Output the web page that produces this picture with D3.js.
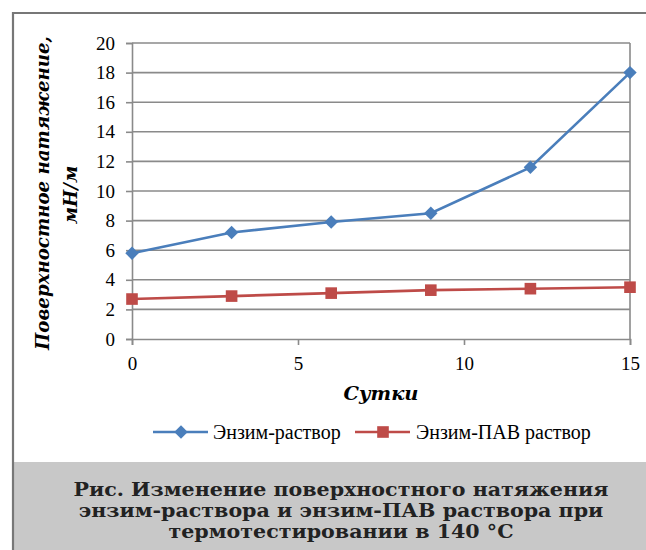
<!DOCTYPE html>
<html><head><meta charset="utf-8">
<script src="https://cdn.jsdelivr.net/npm/d3@7"></script>
<style>body{margin:0;background:#fff}svg{display:block}</style>
</head><body>
<script>
const days = [0, 3, 6, 9, 12, 15];
const enzymeSolution = [5.8, 7.2, 7.9, 8.5, 11.6, 18.0];
const enzymeSurfactant = [2.7, 2.9, 3.1, 3.3, 3.4, 3.5];
const seriesNames = ["Энзим-раствор", "Энзим-ПАВ раствор"];
const yTicks = [0, 2, 4, 6, 8, 10, 12, 14, 16, 18, 20];
const xTicks = [0, 5, 10, 15];
const yTitle = ["Поверхностное натяжение,", "мН/м"];
const xTitle = "Сутки";
const caption = ["Рис. Изменение поверхностного натяжения", "энзим-раствора и энзим-ПАВ раствора при", "термотестировании в 140 °C"];

const W = 646, H = 550;
const svg = d3.select("body").append("svg").attr("width", W).attr("height", H);
const serif = "'Liberation Serif', 'Times New Roman', serif";
const wide = "'DejaVu Serif', serif";

function fitWidth(sel, target, maxSize) {
  const fs = parseFloat(sel.attr("font-size"));
  const w = sel.node().getComputedTextLength();
  sel.attr("font-size", Math.min(maxSize, fs * target / w).toFixed(2));
}

// outer frame
svg.append("rect").attr("x", 13).attr("y", 462).attr("width", W - 13).attr("height", H - 462).attr("fill", "#c8c8c8");
svg.append("path").attr("d", `M13,${H} V13 H${W}`).attr("fill", "none").attr("stroke", "#777").attr("stroke-width", 2.2);

const x = d3.scaleLinear().domain([0, 15]).range([132, 630]);
const y = d3.scaleLinear().domain([0, 20]).range([339, 43]);
const grid = "#8a8a8a";

svg.append("g").selectAll("line").data(yTicks.slice(1)).join("line")
  .attr("x1", x(0)).attr("x2", x(15)).attr("y1", d => y(d)).attr("y2", d => y(d))
  .attr("stroke", grid).attr("stroke-width", 1.6);
svg.append("line").attr("x1", x(15)).attr("x2", x(15)).attr("y1", y(20)).attr("y2", y(0))
  .attr("stroke", grid).attr("stroke-width", 1.6);

const yAxis = svg.append("g").attr("transform", `translate(${x(0)},0)`)
  .call(d3.axisLeft(y).tickValues(yTicks).tickSize(6).tickPadding(11).tickFormat(d3.format("d")));
const xAxis = svg.append("g").attr("transform", `translate(0,${y(0)})`)
  .call(d3.axisBottom(x).tickValues(xTicks).tickSize(6).tickPadding(12).tickFormat(d3.format("d")));
[yAxis, xAxis].forEach(a => {
  a.select(".domain").attr("stroke", grid).attr("stroke-width", 1.6);
  a.selectAll(".tick line").attr("stroke", grid).attr("stroke-width", 1.6);
  a.selectAll("text").attr("font-family", serif).attr("font-size", 19).attr("fill", "#000");
});

// axis titles
const yt1 = svg.append("text").attr("transform", `translate(49,193) rotate(-90)`)
  .attr("text-anchor", "middle").attr("font-family", wide).attr("font-size", 20)
  .attr("font-weight", "bold").attr("font-style", "italic").text(yTitle[0]);
fitWidth(yt1, 314, 19);
const yt2 = svg.append("text").attr("transform", `translate(77,195) rotate(-90)`)
  .attr("text-anchor", "middle").attr("font-family", wide).attr("font-size", 20)
  .attr("font-weight", "bold").attr("font-style", "italic").text(yTitle[1]);
yt2.attr("font-size", yt1.attr("font-size"));

const xt = svg.append("text").attr("x", 381).attr("y", 400).attr("text-anchor", "middle")
  .attr("font-family", wide).attr("font-size", 20).attr("font-weight", "bold").attr("font-style", "italic")
  .text(xTitle);
fitWidth(xt, 75, 20);

// series
const colors = ["#4a7ebb", "#be4b48"];
const data = [enzymeSolution, enzymeSurfactant];
const line = d3.line().x((d, i) => x(days[i])).y(d => y(d));
const diamond = d3.symbol().type(d3.symbolDiamond2).size(115);
const square = d3.symbol().type(d3.symbolSquare).size(135);
data.forEach((vals, k) => {
  svg.append("path").attr("d", line(vals)).attr("fill", "none").attr("stroke", colors[k]).attr("stroke-width", 2.6);
  svg.append("g").selectAll("path").data(vals).join("path")
    .attr("transform", (d, i) => `translate(${x(days[i])},${y(d)})`)
    .attr("d", k === 0 ? diamond : square).attr("fill", colors[k]);
});

// legend
const legendItems = [{x0: 153, tx: 213}, {x0: 355, tx: 416}];
legendItems.forEach((it, k) => {
  const ly = 432;
  svg.append("line").attr("x1", it.x0).attr("x2", it.x0 + 55).attr("y1", ly).attr("y2", ly)
    .attr("stroke", colors[k]).attr("stroke-width", 2.6);
  svg.append("path").attr("transform", `translate(${it.x0 + 28},${ly})`)
    .attr("d", k === 0 ? diamond : square).attr("fill", colors[k]);
  svg.append("text").attr("x", it.tx).attr("y", ly + 6.5).attr("font-family", serif).attr("font-size", 20)
    .text(seriesNames[k]);
});

// caption: DejaVu Serif bold, widened slightly to the reference's line width
const capTexts = caption.map((c, i) => svg.append("text").attr("x", 341).attr("y", 496 + i * 21)
  .attr("text-anchor", "middle").attr("font-family", wide).attr("font-size", 17.9)
  .attr("font-weight", "bold").attr("fill", "#222").text(c));
const widths = capTexts.map(t => t.node().getComputedTextLength());
const factor = 535 / widths[0];
capTexts.forEach((t, i) => t.attr("textLength", (widths[i] * factor).toFixed(1)).attr("lengthAdjust", "spacingAndGlyphs"));
</script>
</body></html>
